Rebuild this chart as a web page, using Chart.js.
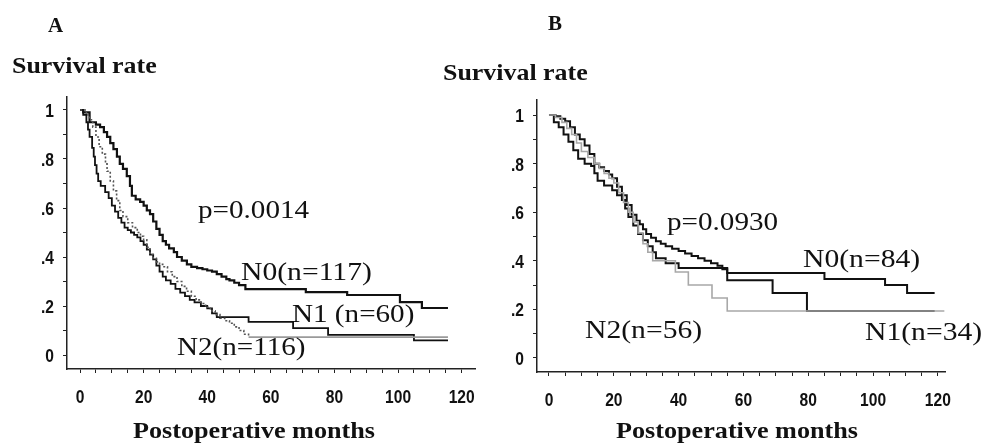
<!DOCTYPE html>
<html>
<head>
<meta charset="utf-8">
<script src="https://cdn.jsdelivr.net/npm/chart.js@4.4.0/dist/chart.umd.min.js"></script>
<style>
  body { margin:0; background:#fff; width:984px; height:446px; overflow:hidden; position:relative; }
  canvas { position:absolute; top:0; }
  #chartA { left:0; }
  #chartB { left:430px; }
</style>
</head>
<body>
<canvas id="chartA" width="492" height="446"></canvas>
<canvas id="chartB" width="554" height="446"></canvas>
<script>
// tick labels
const xTickLabels = ['0', '20', '40', '60', '80', '100', '120'];
const yTickLabels = ['0', '.2', '.4', '.6', '.8', '1'];

// Panel A - Kaplan-Meier (months, survival)
const monthsA_N0 = [0, 1, 3, 5, 6.3, 7.5, 8.5, 9.5, 10.5, 11.6, 12.5, 13.5, 14.7, 15.7, 16.3, 17.5, 18.9, 20, 21, 22, 23, 24, 25, 26, 27, 28, 29.5, 30.5, 32, 33.6, 35, 36.8, 38.5, 40, 41.5, 43, 44.5, 46, 47, 48.5, 50, 52, 71, 84, 100.6, 107.5, 115.7];
const survA_N0   = [1, 0.99, 0.95, 0.94, 0.93, 0.91, 0.89, 0.865, 0.84, 0.81, 0.78, 0.76, 0.73, 0.69, 0.65, 0.635, 0.625, 0.61, 0.59, 0.575, 0.545, 0.515, 0.49, 0.465, 0.45, 0.435, 0.42, 0.40, 0.385, 0.37, 0.36, 0.355, 0.35, 0.345, 0.34, 0.33, 0.32, 0.31, 0.305, 0.295, 0.285, 0.269, 0.257, 0.245, 0.216, 0.192, 0.192];
const monthsA_N1 = [0, 1, 2, 2.5, 3, 3.8, 4.3, 4.7, 5.2, 5.7, 6.5, 7.9, 9, 10, 11, 12, 13, 14, 15, 16, 17, 18, 19, 20, 21, 22, 23, 24, 25, 26, 27, 28.5, 30, 31.5, 33, 34.5, 36, 38, 40, 41.5, 43, 53, 67, 78, 105, 115.7];
const survA_N1   = [1, 0.98, 0.95, 0.92, 0.89, 0.845, 0.81, 0.775, 0.74, 0.71, 0.69, 0.665, 0.64, 0.61, 0.585, 0.56, 0.54, 0.52, 0.51, 0.50, 0.49, 0.48, 0.465, 0.45, 0.43, 0.41, 0.39, 0.365, 0.34, 0.32, 0.305, 0.29, 0.27, 0.255, 0.24, 0.225, 0.215, 0.20, 0.19, 0.17, 0.155, 0.135, 0.11, 0.082, 0.06, 0.06];
const monthsA_N2 = [0, 2, 3, 4, 5, 6, 7, 8, 8.5, 9.5, 10.5, 11.5, 12.5, 13.5, 15, 16.5, 18, 19, 20, 21, 22, 23, 24, 25, 26, 27.5, 29, 30.5, 32, 33.5, 35, 36.5, 38, 39.5, 41, 42.5, 44, 45.5, 47, 48.5, 50, 51.5, 53, 115.7];
const survA_N2   = [1, 0.98, 0.96, 0.93, 0.89, 0.85, 0.82, 0.78, 0.75, 0.71, 0.67, 0.63, 0.59, 0.565, 0.54, 0.52, 0.50, 0.485, 0.47, 0.44, 0.41, 0.395, 0.38, 0.37, 0.36, 0.34, 0.32, 0.30, 0.28, 0.26, 0.24, 0.225, 0.21, 0.195, 0.18, 0.165, 0.15, 0.14, 0.13, 0.115, 0.10, 0.085, 0.073, 0.073];

// Panel B
const monthsB_N0 = [0, 2, 3.5, 5, 6.5, 8, 9.5, 11, 12.5, 14, 15.5, 17, 18.5, 19.5, 21, 22.5, 24, 25.5, 27, 28, 29, 30, 31.5, 33, 34.5, 36, 38, 40, 42, 44, 46, 48, 50, 52, 53.5, 55, 85, 103.7, 110.5, 119];
const survB_N0   = [1, 0.995, 0.985, 0.975, 0.95, 0.92, 0.90, 0.875, 0.84, 0.80, 0.785, 0.77, 0.755, 0.74, 0.705, 0.67, 0.63, 0.59, 0.565, 0.55, 0.53, 0.51, 0.495, 0.48, 0.47, 0.46, 0.45, 0.44, 0.43, 0.42, 0.41, 0.40, 0.39, 0.38, 0.365, 0.35, 0.325, 0.30, 0.267, 0.267];
const monthsB_N1 = [0, 1.5, 3, 4.5, 6, 7.5, 9, 11, 13, 14, 15, 17, 19.5, 21, 22.5, 23.5, 24.5, 26, 27.5, 29, 30.5, 32, 33, 36, 40, 55, 69, 79.6, 119];
const survB_N1   = [1, 0.97, 0.95, 0.92, 0.89, 0.855, 0.82, 0.80, 0.79, 0.76, 0.73, 0.71, 0.69, 0.67, 0.65, 0.615, 0.58, 0.545, 0.51, 0.485, 0.46, 0.435, 0.41, 0.39, 0.37, 0.32, 0.267, 0.193, 0.193];
const monthsB_N2 = [0, 2, 4, 5.5, 7, 8.5, 10, 12, 14, 15.5, 17, 18.5, 20, 21.5, 23, 24.5, 26, 27.5, 29, 30.5, 32, 39, 43, 50.3, 55, 122];
const survB_N2   = [1, 0.99, 0.97, 0.945, 0.92, 0.885, 0.85, 0.825, 0.80, 0.78, 0.76, 0.74, 0.72, 0.68, 0.64, 0.60, 0.56, 0.515, 0.47, 0.435, 0.40, 0.354, 0.30, 0.247, 0.193, 0.193];

const toPts = (xs, ys) => xs.map((x, i) => ({ x: x, y: ys[i] }));

const serif = "'Liberation Serif', 'Times New Roman', serif";
const tickFont = "bold 19px 'Liberation Sans', Arial, sans-serif";

function drawText(ctx, text, x, y, font, align, sx) {
  ctx.save();
  ctx.font = font;
  ctx.fillStyle = '#111';
  ctx.textAlign = align || 'left';
  ctx.textBaseline = 'alphabetic';
  ctx.translate(x, y);
  ctx.scale(sx || 1, 1);
  ctx.fillText(text, 0, 0);
  ctx.restore();
}

// narrow tick labels + titles + curve labels
function textLayer(items) {
  return {
    id: 'textLayer',
    afterDraw(chart) {
      const ctx = chart.ctx;
      const xs = chart.scales.x, ys = chart.scales.y;
      const base = chart.chartArea.bottom + 34;
      xTickLabels.forEach((lab, i) => {
        drawText(ctx, lab, xs.getPixelForValue(i * 20), base, tickFont, 'center', 0.82);
      });
      yTickLabels.forEach((lab, i) => {
        drawText(ctx, lab, chart.chartArea.left - 13, ys.getPixelForValue(i * 0.2) + 7, tickFont, 'right', 0.82);
      });
      items.forEach(it => drawText(ctx, it.text, it.x, it.y, it.font, it.align, it.sx));
    }
  };
}

function makeChart(id, datasets, cfg, texts) {
  const axisGrid = { drawOnChartArea: false, drawTicks: true, tickLength: 4, color: '#222', lineWidth: 1 };
  new Chart(document.getElementById(id), {
    type: 'line',
    data: { datasets: datasets },
    options: {
      responsive: false,
      animation: false,
      devicePixelRatio: 1,
      layout: { padding: { left: 0, right: cfg.padRight, top: cfg.padTop, bottom: 0 } },
      plugins: { legend: { display: false }, tooltip: { enabled: false } },
      elements: { point: { radius: 0 }, line: { tension: 0 } },
      scales: {
        x: {
          type: 'linear', min: cfg.xMin, max: cfg.xMax,
          afterBuildTicks: s => {
            const t = [];
            for (let v = 0; v <= 120; v += 5) t.push({ value: v });
            s.ticks = t;
          },
          afterFit: s => { s.height = cfg.xHeight; },
          ticks: { display: false, autoSkip: false },
          grid: axisGrid,
          border: { display: true, color: '#222', width: 1.5 }
        },
        y: {
          type: 'linear', min: cfg.yMin, max: cfg.yMax,
          afterBuildTicks: s => {
            const t = [];
            for (let i = 0; i <= 10; i++) t.push({ value: i / 10 });
            s.ticks = t;
          },
          afterFit: s => { s.width = cfg.yWidth; },
          ticks: { display: false, autoSkip: false },
          grid: axisGrid,
          border: { display: true, color: '#222', width: 1.5 }
        }
      }
    },
    plugins: [textLayer(texts)]
  });
}

// Panel A
makeChart('chartA', [
  {
    label: 'N2', data: toPts(monthsA_N2, survA_N2), stepped: true,
    borderColor: '#9a9a9a', borderWidth: 1.6,
    segment: {
      borderDash: c => (c.p1.parsed.x <= 53 ? [2, 2] : undefined),
      borderColor: c => (c.p1.parsed.x <= 53 ? '#555' : undefined)
    }
  },
  { label: 'N1', data: toPts(monthsA_N1, survA_N1), stepped: true, borderColor: '#111', borderWidth: 1.8 },
  { label: 'N0', data: toPts(monthsA_N0, survA_N0), stepped: true, borderColor: '#111', borderWidth: 2.2 }
], { xMin: -4.1, xMax: 124.2, yMin: -0.057, yMax: 1.053, padRight: 17, padTop: 97, xHeight: 77, yWidth: 67 }, [
  { text: 'A', x: 48, y: 32, font: 'bold 21px ' + serif },
  { text: 'Survival rate', x: 12, y: 73, font: 'bold 24px ' + serif, sx: 1.08 },
  { text: 'Postoperative months', x: 254, y: 438, font: 'bold 24px ' + serif, sx: 1.09, align: 'center' },
  { text: 'p=0.0014', x: 198, y: 218, font: '26px ' + serif, sx: 1.12 },
  { text: 'N0(n=117)', x: 241, y: 280, font: '26px ' + serif, sx: 1.14 },
  { text: 'N1 (n=60)', x: 292, y: 322, font: '26px ' + serif, sx: 1.12 },
  { text: 'N2(n=116)', x: 177, y: 355, font: '26px ' + serif, sx: 1.12 }
]);

// Panel B (canvas starts at page x = 430)
makeChart('chartB', [
  { label: 'N2', data: toPts(monthsB_N2, survB_N2), stepped: true, borderColor: '#a8a8a8', borderWidth: 1.6 },
  { label: 'N1', data: toPts(monthsB_N1, survB_N1), stepped: true, borderColor: '#111', borderWidth: 2 },
  { label: 'N0', data: toPts(monthsB_N0, survB_N0), stepped: true, borderColor: '#111', borderWidth: 2 }
], { xMin: -3.7, xMax: 122.2, yMin: -0.058, yMax: 1.062, padRight: 39, padTop: 100, xHeight: 74, yWidth: 107 }, [
  { text: 'B', x: 118, y: 30, font: 'bold 21px ' + serif },
  { text: 'Survival rate', x: 13, y: 80, font: 'bold 24px ' + serif, sx: 1.08 },
  { text: 'Postoperative months', x: 307, y: 438, font: 'bold 24px ' + serif, sx: 1.09, align: 'center' },
  { text: 'p=0.0930', x: 237, y: 230, font: '26px ' + serif, sx: 1.12 },
  { text: 'N0(n=84)', x: 373, y: 267, font: '26px ' + serif, sx: 1.14 },
  { text: 'N1(n=34)', x: 435, y: 340, font: '26px ' + serif, sx: 1.14 },
  { text: 'N2(n=56)', x: 155, y: 338, font: '26px ' + serif, sx: 1.14 }
]);
</script>
</body>
</html>
